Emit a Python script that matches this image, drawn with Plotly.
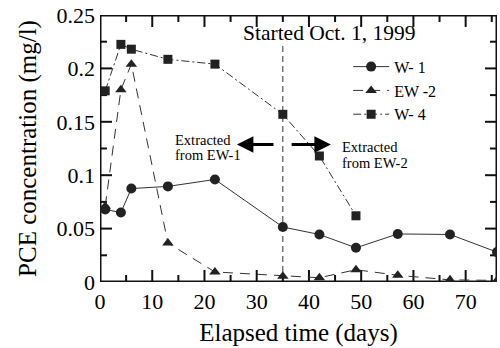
import plotly.graph_objects as go

# Data (days, mg/l)
w1_days = [1, 4, 6, 13, 22, 35, 42, 49, 57, 67, 76]
w1_conc = [0.068, 0.065, 0.0875, 0.0895, 0.096, 0.0515, 0.0445, 0.032, 0.045, 0.0445, 0.028]

ew2_days = [1, 4, 6, 13, 22, 35, 42, 49, 57, 67, 76]
ew2_conc = [0.071, 0.180, 0.204, 0.0365, 0.0094, 0.0055, 0.004, 0.0115, 0.0063, 0.002, 0.0015]

w4_days = [1, 4, 6, 13, 22, 35, 42, 49]
w4_conc = [0.179, 0.2225, 0.218, 0.2085, 0.204, 0.157, 0.118, 0.062]

start_day = 35
x_ticks = [0, 10, 20, 30, 40, 50, 60, 70]
x_minor = [5, 15, 25, 35, 45, 55, 65, 75]
y_ticks = [0, 0.05, 0.1, 0.15, 0.2, 0.25]
y_minor = [0.025, 0.075, 0.125, 0.175, 0.225]
X_MAX = 76
Y_MAX = 0.25

FONT = "Liberation Serif"
INK = "#222222"
AXC = "#111111"

# plot-area size in pixels (for converting tick lengths to data units)
PLOT_W = 500 - 100 - 3
PLOT_H = 348 - 15 - 66
px_x = X_MAX / PLOT_W
px_y = Y_MAX / PLOT_H

fig = go.Figure()

# frame and ticks drawn as line traces
fx, fy = [], []
for t in x_ticks + [m for m in x_minor if m < X_MAX]:
    L = (12 if t in x_ticks else 7) * px_y
    fx += [t, t, None, t, t, None]
    fy += [0, L, None, Y_MAX, Y_MAX - L, None]
for t in y_ticks + y_minor:
    L = (12 if t in y_ticks else 7) * px_x
    fx += [0, L, None, X_MAX, X_MAX - L, None]
    fy += [t, t, None, t, t, None]
fig.add_trace(go.Scatter(x=fx, y=fy, mode="lines", line=dict(color=AXC, width=2),
                         showlegend=False, hoverinfo="skip", cliponaxis=False))
fig.add_trace(go.Scatter(x=[0, X_MAX, X_MAX, 0, 0], y=[0, 0, Y_MAX, Y_MAX, 0], mode="lines",
                         line=dict(color=AXC, width=3), showlegend=False, hoverinfo="skip",
                         cliponaxis=False))

fig.add_trace(go.Scatter(x=w1_days, y=w1_conc, name="W- 1", mode="lines+markers",
                         line=dict(color="#333333", width=1),
                         marker=dict(symbol="circle", size=10, color=INK)))
fig.add_trace(go.Scatter(x=ew2_days, y=ew2_conc, name="EW -2", mode="lines+markers",
                         line=dict(color="#333333", width=1, dash="10px,7px"),
                         marker=dict(symbol="triangle-up", size=10, color=INK)))
fig.add_trace(go.Scatter(x=w4_days, y=w4_conc, name="W- 4", mode="lines+markers",
                         line=dict(color="#333333", width=1, dash="8px,3px,2px,3px"),
                         marker=dict(symbol="square", size=9, color=INK)))

# vertical start line
fig.add_shape(type="line", x0=start_day, x1=start_day, y0=0, y1=0.224,
              xref="x", yref="y", line=dict(color="#333333", width=1, dash="6px,4px"), layer="below")

ann = []
ann.append(dict(x=44, y=0.2335, xref="x", yref="y", text="Started Oct. 1, 1999",
                showarrow=False, font=dict(family=FONT, size=21.5, color="black")))
# arrows
ann.append(dict(x=26.2, y=0.1288, ax=33.5, ay=0.1288, xref="x", yref="y", axref="x", ayref="y",
                text="", showarrow=True, arrowhead=2, arrowsize=1.1, arrowwidth=3, arrowcolor="black"))
ann.append(dict(x=44.2, y=0.1288, ax=36.4, ay=0.1288, xref="x", yref="y", axref="x", ayref="y",
                text="", showarrow=True, arrowhead=2, arrowsize=1.1, arrowwidth=3, arrowcolor="black"))
for txt, xx, yy in [("Extracted", 13.9, 0.1327), ("from EW-1", 13.9, 0.1186),
                    ("Extracted", 46.0, 0.1265), ("from EW-2", 46.0, 0.1110)]:
    ann.append(dict(x=xx, y=yy, xref="x", yref="y", text=txt, showarrow=False,
                    xanchor="left", yanchor="middle",
                    font=dict(family=FONT, size=14.5, color="black")))

axis_common = dict(ticks="", showline=False, showgrid=False, zeroline=False, automargin=False,
                   tickfont=dict(family=FONT, size=22, color="#000000"))

fig.update_layout(
    template="none",
    width=500, height=348,
    margin=dict(l=100, r=3, t=15, b=66, autoexpand=False),
    paper_bgcolor="white", plot_bgcolor="white",
    font=dict(family=FONT, color="black"),
    showlegend=True,
    legend=dict(x=0.625, y=0.87, xanchor="left", yanchor="top",
                font=dict(family=FONT, size=16, color="black"),
                bgcolor="rgba(0,0,0,0)", tracegroupgap=0, itemwidth=36),
    annotations=ann,
    xaxis=dict(range=[0, X_MAX], tickvals=x_ticks, ticklabelstandoff=4,
               title=dict(text="Elapsed time (days)", font=dict(family=FONT, size=25), standoff=10),
               **axis_common),
    yaxis=dict(range=[0, Y_MAX], tickvals=y_ticks, ticklabelstandoff=4,
               title=dict(text="PCE concentration (mg/l)", font=dict(family=FONT, size=25), standoff=12),
               **axis_common),
)

fig.write_html("out.html", config={"displayModeBar": False},
               post_script="document.body.style.margin='0';")
